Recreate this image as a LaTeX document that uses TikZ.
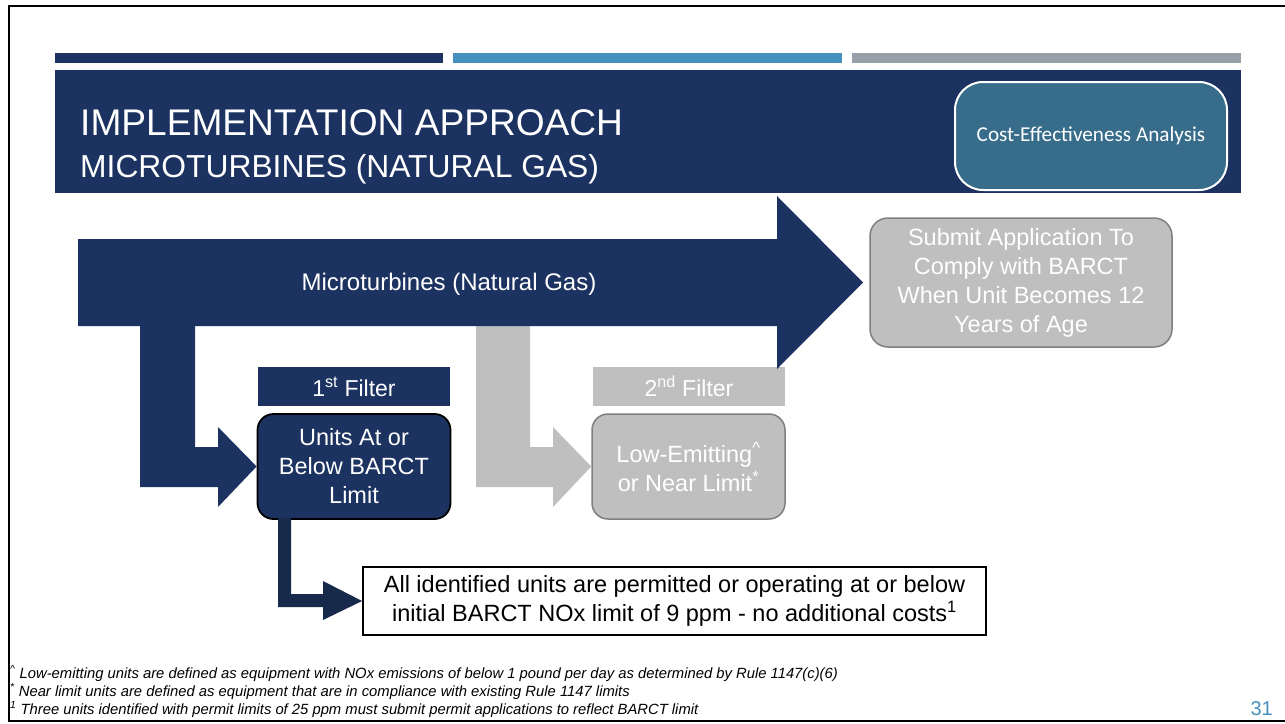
\documentclass[tikz,border=0pt]{standalone}
\usepackage{fontspec}
\setmainfont{Liberation Sans}
\newfontfamily\gillfont{Carlito}
\usetikzlibrary{calc}
\definecolor{navy}{HTML}{1C3260}
\definecolor{deepnavy}{HTML}{182A4C}
\definecolor{skybar}{HTML}{4590BD}
\definecolor{slatebar}{HTML}{979FA8}
\definecolor{tealbox}{HTML}{376C8A}
\definecolor{paleg}{HTML}{BFBFBF}
\definecolor{edgeg}{HTML}{7F7F7F}
\begin{document}
\begin{tikzpicture}[x=1pt,y=-1pt,
  bodytext/.style={font=\fontsize{23.5}{29}\selectfont, align=center, text=white},
  filterbox/.style={minimum width=192, minimum height=39, inner sep=0pt, font=\fontsize{23}{26}\selectfont, text=white},
  unitbox/.style={rounded corners=16, line width=1.8pt, minimum width=193, minimum height=105, inner sep=0pt, bodytext},
  graybox/.style={fill=paleg, draw=edgeg, line width=1.5pt},
  footnote/.style={anchor=base west, inner sep=0pt, font=\fontsize{14.8}{16}\selectfont\itshape}]
\useasboundingbox (0,0) rectangle (1285,723);
\fill[white] (0,0) rectangle (1285,723);

% slide frame
\draw[line width=2.5pt] (1290,6) -- (9,6) -- (9,721) -- (1290,721);

% header bars and title banner
\fill[navy] (55,53) rectangle (443,63);
\fill[skybar] (453,53) rectangle (842,63);
\fill[slatebar] (852,53) rectangle (1241,63);
\fill[navy] (55,70) rectangle (1241,193);
\node[anchor=base west, inner sep=0pt, text=white, font=\fontsize{37.1}{40}\selectfont] (title) at (80,135) {IMPLEMENTATION APPROACH};
\node[anchor=base west, inner sep=0pt, text=white, font=\fontsize{31.8}{36}\selectfont] (subtitle) at (80,177) {MICROTURBINES (NATURAL GAS)};
\node[fill=tealbox, draw=white, line width=2pt, rounded corners=28, minimum width=272, minimum height=108, inner sep=0pt, text=white, font=\gillfont\fontsize{21.2}{24}\selectfont] (cea) at (1091,136) {Cost-Effectiveness Analysis};

% boxes
\node[graybox, rounded corners=18, minimum width=302, minimum height=129, inner sep=0pt, bodytext] (submit) at (1021,282.5) {Submit Application To\\Comply with BARCT\\When Unit Becomes 12\\Years of Age};
\node[filterbox, fill=navy] (f1) at (354,386.5) {1\textsuperscript{st} Filter};
\node[filterbox, fill=paleg] (f2) at (689,386.5) {2\textsuperscript{nd} Filter};
\node[unitbox, fill=navy, draw=black] (units) at (354,466.5) {Units At or\\Below BARCT\\Limit};
\node[unitbox, graybox] (low) at (688.5,466.5) {Low-Emitting\textsuperscript{\textasciicircum}\\or Near Limit\textsuperscript{*}};
\node[draw=black, line width=1.8pt, fill=white, minimum width=623, minimum height=68, inner sep=0pt, align=center, font=\fontsize{23.5}{29}\selectfont] (note) at (674.5,601) {All identified units are permitted or operating at or below\\initial BARCT NOx limit of 9 ppm - no additional costs\textsuperscript{1}};

% second-filter bent arrow (behind the main arrow)
\fill[paleg] (476,320) -- (530,320) -- (530,447) -- (553,447) -- (553,427)
  -- (low.west) -- (553,507) -- (553,487) -- (476,487) -- cycle;

% main arrow
\fill[navy] (78,239) -- (777,239) -- (777,196) -- (863,282.5) -- (777,369) -- (777,326) -- (78,326) -- cycle;
\node[font=\fontsize{24}{29}\selectfont, text=white] (main) at (449,284) {Microturbines (Natural Gas)};

% first-filter bent arrow
\fill[navy] (140,320) -- (195,320) -- (195,447) -- (218,447) -- (218,427)
  -- (units.west) -- (218,507) -- (218,487) -- (140,487) -- cycle;

% outcome arrow
\fill[deepnavy] ($(units.south)+(-76,-2)$) -- ($(units.south)+(-63,-2)$) -- (291,594) -- (323,594) -- (323,581)
  -- (note.west) -- (323,620) -- (323,607) -- (278,607) -- cycle;

% footnotes and page number
\node[footnote] (fn1) at (10,678) {\textsuperscript{\textasciicircum} Low-emitting units are defined as equipment with NOx emissions of below 1 pound per day as determined by Rule 1147(c)(6)};
\node[footnote] (fn2) at (10,696) {\textsuperscript{*} Near limit units are defined as equipment that are in compliance with existing Rule 1147 limits};
\node[footnote] (fn3) at (10,714) {\textsuperscript{1} Three units identified with permit limits of 25 ppm must submit permit applications to reflect BARCT limit};
\node[anchor=base east, inner sep=0pt, text=skybar, font=\fontsize{20}{24}\selectfont] (page) at (1273,715) {31};
\end{tikzpicture}
\end{document}
